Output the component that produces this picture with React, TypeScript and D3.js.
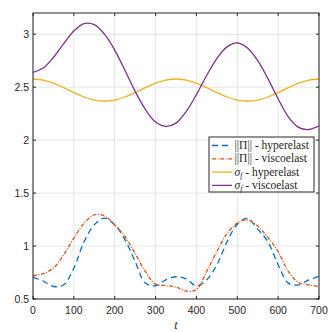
import React, { useEffect, useRef } from "react";
import * as d3 from "d3";

// time samples (every 25)
const time = [0, 25, 50, 75, 100, 125, 150, 175, 200, 225, 250, 275, 300, 325, 350, 375, 400, 425, 450, 475, 500, 525, 550, 575, 600, 625, 650, 675, 700];

// ||Pi|| hyperelast
const piHyper = [0.705, 0.67, 0.618, 0.634, 0.792, 1.04, 1.2, 1.263, 1.2, 1.06, 0.854, 0.65, 0.625, 0.68, 0.71, 0.69, 0.625, 0.68, 0.823, 1.04, 1.206, 1.26, 1.16, 1.04, 0.823, 0.65, 0.634, 0.68, 0.715];
// ||Pi|| viscoelast
const piVisco = [0.719, 0.74, 0.792, 0.917, 1.075, 1.216, 1.294, 1.285, 1.2, 1.09, 0.93, 0.76, 0.64, 0.627, 0.612, 0.575, 0.59, 0.76, 0.948, 1.12, 1.216, 1.247, 1.19, 1.08, 0.948, 0.76, 0.656, 0.634, 0.618];
// sigma_f hyperelast
const sigHyper = [2.577, 2.567, 2.537, 2.495, 2.449, 2.407, 2.377, 2.367, 2.377, 2.407, 2.449, 2.495, 2.537, 2.567, 2.577, 2.567, 2.537, 2.495, 2.449, 2.407, 2.377, 2.367, 2.377, 2.407, 2.449, 2.495, 2.537, 2.567, 2.577];
// sigma_f viscoelast
const sigVisco = [2.64, 2.68, 2.78, 2.91, 3.03, 3.1, 3.09, 3.0, 2.85, 2.66, 2.46, 2.29, 2.17, 2.13, 2.16, 2.27, 2.43, 2.61, 2.77, 2.88, 2.917, 2.87, 2.75, 2.58, 2.39, 2.22, 2.12, 2.1, 2.135];

const xTicks = [0, 100, 200, 300, 400, 500, 600, 700];
const yTicks = [0.5, 1, 1.5, 2, 2.5, 3];

const series = [
  { name: "||\u03A0|| - hyperelast", values: piHyper, color: "#0072BD", dash: "6,4" },
  { name: "||\u03A0|| - viscoelast", values: piVisco, color: "#D95319", dash: "4,1.5,1,1.5" },
  { name: "hyperelast", sigma: true, values: sigHyper, color: "#EDB120", dash: null },
  { name: "viscoelast", sigma: true, values: sigVisco, color: "#7E2F8E", dash: null },
];

export default function App() {
  const ref = useRef<SVGSVGElement>(null);

  useEffect(() => {
    const svg = d3.select(ref.current);
    svg.selectAll("*").remove();

    const margin = { top: 13, right: 13, bottom: 33, left: 33 };
    const width = 332 - margin.left - margin.right;
    const height = 332 - margin.top - margin.bottom;
    const axisCol = "#262626";

    const g = svg.append("g").attr("transform", `translate(${margin.left},${margin.top})`);

    const x = d3.scaleLinear().domain([0, 700]).range([0, width]);
    const y = d3.scaleLinear().domain([0.5, 3.2]).range([height, 0]);

    // grid
    g.append("g").selectAll("line").data(xTicks).join("line")
      .attr("x1", d => x(d)).attr("x2", d => x(d))
      .attr("y1", 0).attr("y2", height)
      .attr("stroke", "#e5e5e5").attr("stroke-width", 1);
    g.append("g").selectAll("line").data(yTicks).join("line")
      .attr("x1", 0).attr("x2", width)
      .attr("y1", d => y(d)).attr("y2", d => y(d))
      .attr("stroke", "#e5e5e5").attr("stroke-width", 1);

    // lines
    const line = d3.line<number>()
      .x((d, i) => x(time[i]))
      .y(d => y(d))
      .curve(d3.curveCatmullRom.alpha(0.5));

    g.append("clipPath").attr("id", "clip")
      .append("rect").attr("width", width).attr("height", height);

    series.forEach(s => {
      g.append("path")
        .datum(s.values)
        .attr("clip-path", "url(#clip)")
        .attr("fill", "none")
        .attr("stroke", s.color)
        .attr("stroke-width", 1.3)
        .attr("stroke-dasharray", s.dash)
        .attr("d", line);
    });

    // axes box with inward ticks
    g.append("rect").attr("width", width).attr("height", height)
      .attr("fill", "none").attr("stroke", axisCol).attr("stroke-width", 1);
    const tl = 3;
    xTicks.forEach(t => {
      g.append("line").attr("x1", x(t)).attr("x2", x(t)).attr("y1", height).attr("y2", height - tl).attr("stroke", axisCol);
      g.append("line").attr("x1", x(t)).attr("x2", x(t)).attr("y1", 0).attr("y2", tl).attr("stroke", axisCol);
    });
    yTicks.forEach(t => {
      g.append("line").attr("x1", 0).attr("x2", tl).attr("y1", y(t)).attr("y2", y(t)).attr("stroke", axisCol);
      g.append("line").attr("x1", width).attr("x2", width - tl).attr("y1", y(t)).attr("y2", y(t)).attr("stroke", axisCol);
    });

    // tick labels
    const font = "Liberation Sans, Arial, sans-serif";
    g.append("g").selectAll("text").data(xTicks).join("text")
      .attr("x", d => x(d)).attr("y", height + 15)
      .attr("text-anchor", "middle")
      .attr("font-family", font).attr("font-size", 10.5).attr("fill", axisCol)
      .text(d => String(d));
    g.append("g").selectAll("text").data(yTicks).join("text")
      .attr("x", -4).attr("y", d => y(d) + 4)
      .attr("text-anchor", "end")
      .attr("font-family", font).attr("font-size", 10.5).attr("fill", axisCol)
      .text(d => String(d));

    // x label
    g.append("text")
      .attr("x", width / 2).attr("y", height + 30)
      .attr("text-anchor", "middle")
      .attr("font-family", "Liberation Serif, Times New Roman, serif")
      .attr("font-style", "italic").attr("font-size", 12).attr("fill", axisCol)
      .text("t");

    // legend
    const lx = 209 - margin.left, ly = 137 - margin.top;
    const leg = g.append("g").attr("transform", `translate(${lx},${ly})`);
    leg.append("rect").attr("width", 105).attr("height", 55)
      .attr("fill", "white").attr("stroke", axisCol).attr("stroke-width", 1);
    series.forEach((s, i) => {
      const yy = 8.5 + i * 13.3;
      leg.append("line")
        .attr("x1", 3).attr("x2", 23).attr("y1", yy).attr("y2", yy)
        .attr("stroke", s.color).attr("stroke-width", 1.3)
        .attr("stroke-dasharray", s.dash);
      const txt = leg.append("text")
        .attr("x", 25.5).attr("y", yy + 3.5)
        .attr("font-family", "Liberation Serif, Times New Roman, serif")
        .attr("font-size", 11.5).attr("fill", axisCol);
      if (s.sigma) {
        txt.append("tspan").attr("font-style", "italic").text("\u03C3");
        txt.append("tspan").attr("font-style", "italic").attr("font-size", 8).attr("dy", 2).text("f");
        txt.append("tspan").attr("dy", -2).text(" - " + s.name);
      } else {
        txt.text(s.name);
      }
    });
  }, []);

  return (
    <svg ref={ref} width={332} height={332}
      style={{ position: "absolute", left: 0, top: 0, background: "white" }} />
  );
}
